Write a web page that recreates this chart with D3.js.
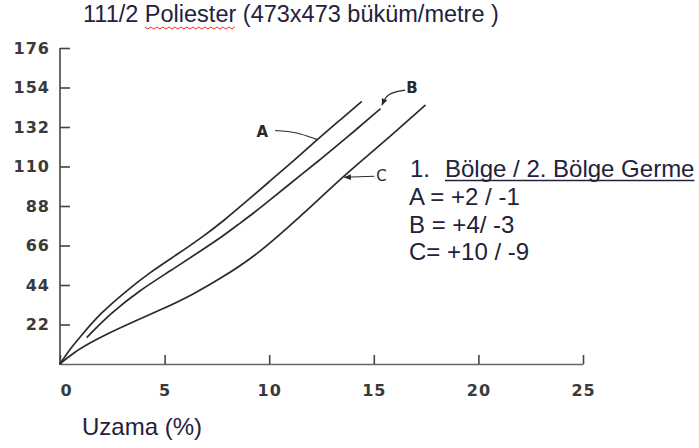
<!DOCTYPE html>
<html>
<head>
<meta charset="utf-8">
<script src="https://cdn.jsdelivr.net/npm/d3@7"></script>
<style>
  body { margin: 0; background: #fff; }
  svg { display: block; }
</style>
</head>
<body>
<script>
// values (x = elongation %, y = load)
var curveA = [[0, 0], [0.45, 8], [0.96, 15], [1.9, 28], [3.2, 41], [4.3, 51], [5.6, 61], [6.9, 71.5],
    [7.9, 80.5], [8.8, 89.5], [10.0, 101.5], [11.2, 113.5], [12.3, 125], [13.4, 136], [14.4, 146]];
var curveB = [[1.3, 15], [2.4, 28], [3.8, 41], [5.3, 52], [6.85, 64], [7.7, 70.5], [8.5, 77.5],
    [9.25, 84], [10.0, 91], [11.8, 108], [12.45, 114], [13.5, 124], [15.3, 142]];
var curveC = [[0, 0], [0.6, 6], [1.6, 13], [3.2, 22], [4.8, 30], [6.4, 39], [7.65, 47.5], [9.2, 59],
    [10.8, 75], [12.4, 92], [13.5, 104], [14.5, 114], [16.0, 129], [17.45, 144]];

var curveNames = ["A", "B", "C"];
var pointerAt = [[12.3, 125], [15.3, 142], [13.5, 104]];

var xTicks = [0, 5, 10, 15, 20, 25];
var yTicks = [22, 44, 66, 88, 110, 132, 154, 176];

var title = "111/2 Poliester (473x473 büküm/metre )";
var xTitle = "Uzama (%)";
var legendHead = ["1.", "Bölge / 2. Bölge Germe"];
var legendRows = ["A = +2 / -1", "B = +4/ -3", "C= +10 / -9"];

var svgWidth = 699;
var svgHeight = 448;
var margin = {top: 48, right: 116, bottom: 84, left: 60};
var ink = "#2a2a2a";
var textInk = "#22223a";

var svg = d3.select("body")
        .append("svg")
        .attr("width", svgWidth)
        .attr("height", svgHeight);

var xScale = d3.scaleLinear()
        .domain([0, 25])
        .range([margin.left, svgWidth - margin.right]);

var yScale = d3.scaleLinear()
        .domain([0, 176])
        .range([svgHeight - margin.bottom, margin.top]);

var xAxis = d3.axisBottom(xScale)
        .tickValues(xTicks)
        .tickSizeInner(-9)
        .tickSizeOuter(0)
        .tickPadding(21);

var yAxis = d3.axisLeft(yScale)
        .tickValues(yTicks)
        .tickSizeInner(-10)
        .tickSizeOuter(0)
        .tickPadding(10);

var gx = svg.append("g")
        .attr("transform", "translate(0," + (svgHeight - margin.bottom) + ")")
        .call(xAxis);

var gy = svg.append("g")
        .attr("transform", "translate(" + margin.left + ",0)")
        .call(yAxis);

// y axis runs from 0 up to the top tick
gy.select(".domain").attr("d", "M0," + yScale(0) + "V" + yScale(176));

[gx, gy].forEach(function (g) {
    g.selectAll(".domain, .tick line")
            .attr("stroke", "#444")
            .attr("stroke-width", 1.6);
    g.selectAll(".tick text")
            .attr("fill", "#3a3a3a")
            .style("font-family", "DejaVu Sans")
            .style("font-weight", "bold")
            .style("font-size", "16px")
            .style("letter-spacing", "1px");
});
gx.select(".domain").attr("stroke", "#666");
// the zero label sits a little right of the corner in the scan
gx.selectAll(".tick text").filter(function (d) { return d === 0; }).attr("dx", 6);

var lineFunc = d3.line()
        .x(function (d) { return xScale(d[0]); })
        .y(function (d) { return yScale(d[1]); })
        .curve(d3.curveBasis);

[curveA, curveB, curveC].forEach(function (c) {
    svg.append("path")
            .attr("d", lineFunc(c))
            .attr("fill", "none")
            .attr("stroke", ink)
            .attr("stroke-width", 1.7)
            .attr("stroke-linecap", "round");
});

// arrowhead for the leader lines
svg.append("defs").append("marker")
        .attr("id", "arrow")
        .attr("viewBox", "0 0 10 10")
        .attr("refX", 9)
        .attr("refY", 5)
        .attr("markerWidth", 6)
        .attr("markerHeight", 6)
        .attr("orient", "auto")
        .append("path")
        .attr("d", "M0,1L10,5L0,9Z")
        .attr("fill", ink);

// curve labels with their leaders, offsets from the pointed point
var labelOffset = [[-55, -8], [32, -21], [39, -1]];
var leaderPts = [
    [[-42, -9], [-22, -8], [0, 0]],
    [[25, -19], [7, -16], [2, -4]],
    [[32, -1], [2, 0]]
];
var leaderLine = d3.line().curve(d3.curveBasis);

curveNames.forEach(function (name, i) {
    var px = xScale(pointerAt[i][0]);
    var py = yScale(pointerAt[i][1]);
    var pts = leaderPts[i].map(function (p) { return [px + p[0], py + p[1]]; });
    svg.append("path")
            .attr("d", leaderLine(pts))
            .attr("fill", "none")
            .attr("stroke", ink)
            .attr("stroke-width", 1.2)
            .attr("marker-end", i > 0 ? "url(#arrow)" : null);
    svg.append("text")
            .attr("x", px + labelOffset[i][0])
            .attr("y", py + labelOffset[i][1])
            .attr("text-anchor", "middle")
            .attr("dominant-baseline", "central")
            .attr("fill", ink)
            .style("font-family", "DejaVu Sans")
            .style("font-weight", i < 2 ? "bold" : "normal")
            .style("font-size", "15px")
            .text(name);
});

// title with the spell-check squiggle under "Poliester"
var titleText = svg.append("text")
        .attr("x", 83)
        .attr("y", 22)
        .attr("fill", textInk)
        .style("font-family", "Liberation Sans")
        .style("font-size", "23.5px")
        .text(title);

var wStart = title.indexOf("Poliester");
var sx = 83 + titleText.node().getSubStringLength(0, wStart);
var sw = titleText.node().getSubStringLength(wStart, 9);
var zig = [];
for (var k = 0; k <= Math.round(sw / 3); k++) {
    zig.push([sx + k * 3, 27 + (k % 2 ? 2 : 0)]);
}
svg.append("path")
        .attr("d", d3.line()(zig))
        .attr("fill", "none")
        .attr("stroke", "#e03030")
        .attr("stroke-width", 1);

svg.append("text")
        .attr("x", 82)
        .attr("y", 435)
        .attr("fill", textInk)
        .style("font-family", "Liberation Sans")
        .style("font-size", "24px")
        .text(xTitle);

// stretch-setting notes on the right
var notes = svg.append("g").attr("fill", textInk)
        .style("font-family", "Liberation Sans")
        .style("font-size", "24px");

notes.append("text").attr("x", 410).attr("y", 177).text(legendHead[0]);
var head = notes.append("text").attr("x", 445).attr("y", 177).text(legendHead[1]);
var hw = head.node().getComputedTextLength();
svg.append("line")
        .attr("x1", 445).attr("x2", 445 + hw)
        .attr("y1", 180.5).attr("y2", 180.5)
        .attr("stroke", textInk)
        .attr("stroke-width", 1.3);

legendRows.forEach(function (row, i) {
    notes.append("text")
            .attr("x", 409)
            .attr("y", 205 + i * 27.5)
            .text(row);
});
</script>
</body>
</html>
